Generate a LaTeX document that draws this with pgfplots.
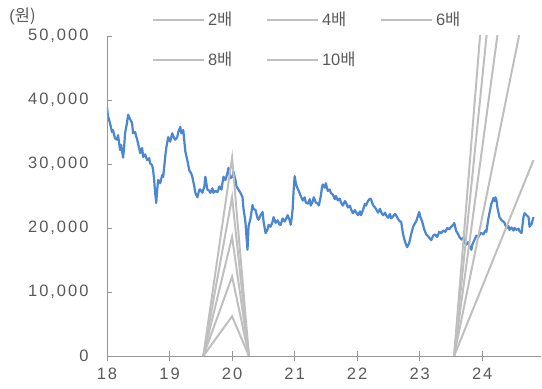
\documentclass[border=0pt]{standalone}
\usepackage{pgfplots}
\pgfplotsset{compat=1.18}
\usepackage{fontspec}
\setmainfont{Liberation Sans}
\newfontfamily\tickfont[LetterSpace=12]{Liberation Sans}
\newfontfamily\kr{Noto Sans CJK KR}
\definecolor{priceblue}{RGB}{74,134,210}
\definecolor{bandgray}{RGB}{191,191,191}
\definecolor{axisgray}{RGB}{150,150,150}
\definecolor{labelgray}{RGB}{89,89,89}
\newcommand{\legtext}[1]{\makebox[45pt][l]{\smash{#1}\rule[-14pt]{0pt}{40pt}}}

% daily close (won), x = year (18 = 2018)
\pgfplotstableread{
x y
18.000 38900
18.016 37500
18.048 36400
18.080 35000
18.096 35300
18.128 34000
18.161 33800
18.177 34500
18.209 32200
18.225 33000
18.257 31000
18.273 32500
18.289 34800
18.321 36500
18.337 37700
18.369 37000
18.401 36400
18.417 34800
18.449 35000
18.482 33800
18.514 32500
18.530 31700
18.562 32500
18.578 31100
18.610 31500
18.642 30600
18.674 30900
18.690 30100
18.722 29800
18.738 29000
18.754 27500
18.770 25500
18.787 23900
18.803 26000
18.819 27500
18.851 27000
18.883 28300
18.899 28000
18.931 31100
18.947 32500
18.979 34200
19.011 33500
19.043 34800
19.075 34000
19.091 33800
19.124 34200
19.140 35000
19.172 35800
19.188 34800
19.220 35300
19.252 32000
19.284 30600
19.316 29000
19.348 28500
19.364 28000
19.396 26500
19.412 25500
19.445 24800
19.477 26000
19.493 26000
19.525 25500
19.557 26500
19.573 28000
19.605 26000
19.637 25800
19.653 25500
19.685 26200
19.701 25500
19.733 25800
19.766 25600
19.798 26500
19.830 26000
19.862 28000
19.894 27500
19.926 28600
19.942 29400
19.974 27800
20.006 28000
20.022 28800
20.054 27500
20.070 26500
20.103 26000
20.135 25500
20.167 24800
20.183 23000
20.215 20800
20.231 18500
20.247 16600
20.263 20200
20.295 21500
20.327 23600
20.343 23000
20.375 22800
20.408 21500
20.424 21300
20.456 22000
20.488 22500
20.504 21000
20.536 19200
20.568 19800
20.584 20500
20.616 20200
20.648 21000
20.664 21700
20.696 20800
20.729 21200
20.761 20500
20.777 20500
20.809 21500
20.841 21000
20.857 21300
20.889 22000
20.921 21200
20.937 20500
20.953 21500
20.969 23000
20.985 26000
21.001 28100
21.017 27200
21.033 26500
21.066 25800
21.098 25000
21.130 24300
21.162 24800
21.178 24000
21.210 23800
21.242 24500
21.258 23500
21.290 24200
21.306 24800
21.338 24000
21.371 23800
21.387 23500
21.419 25000
21.435 26200
21.451 26800
21.483 26300
21.499 27000
21.531 25800
21.563 26000
21.579 25500
21.611 25200
21.644 24500
21.660 25000
21.692 24300
21.724 24600
21.740 24000
21.772 23500
21.804 24200
21.820 24000
21.852 23200
21.884 23500
21.900 23000
21.932 22300
21.964 22800
21.980 22500
22.013 22000
22.045 22600
22.061 22000
22.093 22800
22.125 23800
22.141 23500
22.173 24200
22.205 24600
22.221 24500
22.253 23600
22.285 23200
22.301 23000
22.334 22400
22.366 23000
22.382 22500
22.414 22000
22.446 22400
22.462 22000
22.494 21600
22.526 22200
22.542 21500
22.574 21800
22.606 22200
22.622 22000
22.655 21400
22.687 21000
22.703 21000
22.719 20000
22.735 19000
22.767 17800
22.799 17000
22.831 17600
22.863 19000
22.895 20200
22.927 20800
22.943 21000
22.976 22000
22.992 22500
23.008 21800
23.040 21000
23.072 19800
23.104 19000
23.136 18700
23.152 18500
23.184 18100
23.216 18800
23.248 19000
23.280 18600
23.313 19400
23.345 19200
23.377 19600
23.409 19400
23.441 20000
23.473 19800
23.505 20200
23.537 20500
23.553 20800
23.585 19500
23.618 19000
23.634 18600
23.666 18200
23.698 18500
23.714 17800
23.746 17400
23.778 17800
23.794 17200
23.826 16600
23.842 17400
23.874 18100
23.906 18800
23.939 18600
23.971 19200
23.987 19200
24.019 19000
24.051 19600
24.067 19400
24.083 20500
24.099 21500
24.115 22300
24.147 23800
24.163 24200
24.179 24700
24.195 24200
24.211 24800
24.227 24400
24.243 23200
24.260 22400
24.276 21700
24.308 21200
24.340 21000
24.356 20800
24.388 20000
24.420 20300
24.436 19700
24.468 20100
24.500 19600
24.516 20000
24.548 19700
24.581 19900
24.597 19500
24.629 19200
24.645 20500
24.661 21800
24.677 22300
24.709 22000
24.741 21700
24.757 20200
24.789 20600
24.805 21200
24.821 21700
}\pricetable

\begin{document}
\begin{tikzpicture}
\path[use as bounding box] (0,0) rectangle (542pt,389pt);
\begin{axis}[
  at={(107pt,33pt)}, anchor=south west,
  scale only axis, width=434pt, height=320pt,
  xmin=18, xmax=24.94, ymin=0, ymax=50000,
  axis on top,
  unbounded coords=jump,
  axis x line*=bottom, axis y line*=left,
  axis line style={axisgray, line width=0.9pt, -},
  xtick={18,...,24},
  ytick={0,10000,20000,30000,40000,50000},
  scaled y ticks=false,
  /pgf/number format/assume math mode=true,
  tick align=inside,
  xtick style={axisgray, line width=0.9pt, /pgfplots/major tick length=10pt, yshift=-5pt},
  ytick style={axisgray, line width=0.9pt, /pgfplots/major tick length=5pt},
  tick label style={font=\tickfont\fontsize{16.5}{18}\selectfont, text=labelgray},
  xticklabel style={yshift=-8.5pt},
  yticklabel style={xshift=-15pt, /pgf/number format/fixed, /pgf/number format/1000 sep={,}},
  ylabel={(\kr 원)},
  ylabel style={rotate=-90, at={(rel axis cs:-0.1947,1.061)}, anchor=center,
    font=\fontsize{16.5}{18}\selectfont, text=labelgray},
  legend columns=3,
  legend style={at={(rel axis cs:0.1037,1.1125)}, anchor=north west,
    draw=none, fill=none, inner sep=0pt, outer sep=0pt,
    row sep=0pt, font=\fontsize{16.5}{18}\selectfont,
    cells={anchor=west},
    nodes={inner sep=0pt, outer sep=0pt, text height=26pt, text depth=14pt, text=labelgray},
    /tikz/every odd column/.style={column sep=3pt},
    /tikz/every even column/.style={column sep=13pt}},
  legend image code/.code={\path[draw=none, fill=none] (0pt,-20pt) rectangle (51pt,20pt);
    \draw[#1] (0pt,0pt) -- (51pt,0pt);},
]
\addplot[priceblue, line width=2.2pt, line join=round, forget plot] table[x=x, y=y] {\pricetable};

% price bands: multiples of book value per share
\addplot[bandgray, line width=2pt] coordinates {(19.54,0) (20,6200) (20.27,0) (22,nan) (23.55,0) (24.82,30600)};
\addlegendentry{\legtext{2{\kr 배}}}
\addplot[bandgray, line width=2pt] coordinates {(19.54,0) (20,12400) (20.27,0) (22,nan) (23.55,0) (24.82,61200)};
\addlegendentry{\legtext{4{\kr 배}}}
\addplot[bandgray, line width=2pt] coordinates {(19.54,0) (20,18600) (20.27,0) (22,nan) (23.55,0) (24.82,91800)};
\addlegendentry{\legtext{6{\kr 배}}}
\addplot[bandgray, line width=2pt] coordinates {(19.54,0) (20,24800) (20.27,0) (22,nan) (23.55,0) (24.82,122400)};
\addlegendentry{\legtext{8{\kr 배}}}
\addplot[bandgray, line width=2pt] coordinates {(19.54,0) (20,31000) (20.27,0) (22,nan) (23.55,0) (24.82,153000)};
\addlegendentry{\legtext{10{\kr 배}}}
\end{axis}
\end{tikzpicture}
\end{document}
